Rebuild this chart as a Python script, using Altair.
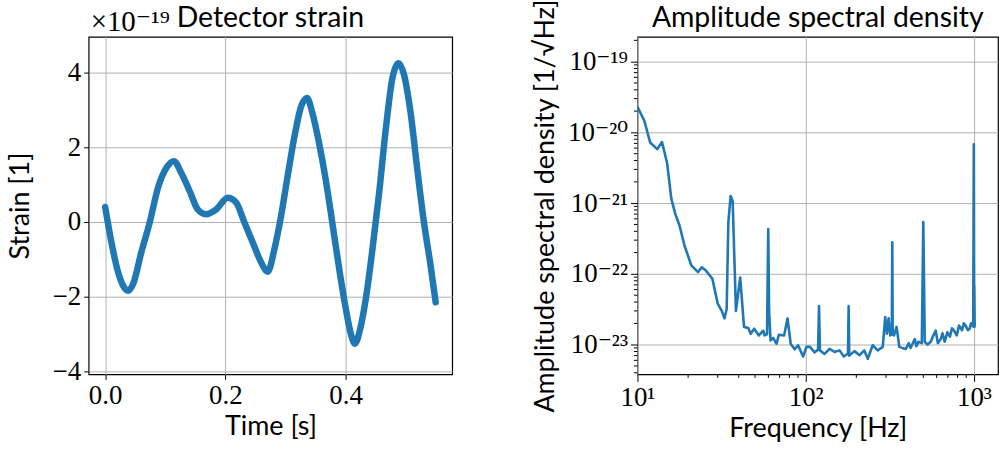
import altair as alt
import pandas as pd

# ---------------- data ----------------
# Left panel: detector strain, values in units of 1e-19
strain_time = [0.000, 0.0105, 0.0216, 0.030, 0.038, 0.0465, 0.060, 0.074, 0.088,
               0.102, 0.1145, 0.1267, 0.1405, 0.154, 0.168, 0.185, 0.204, 0.218,
               0.232, 0.2456, 0.2595, 0.268, 0.2705, 0.2816, 0.2927, 0.3037,
               0.315, 0.326, 0.336, 0.345, 0.356, 0.367, 0.378, 0.3895, 0.4005,
               0.4088, 0.4155, 0.4244, 0.4337, 0.4448, 0.4559, 0.4669, 0.478,
               0.488, 0.4974, 0.5084, 0.5195, 0.5306, 0.5416, 0.550]
strain_value = [0.40, -0.55, -1.35, -1.71, -1.84, -1.66, -0.82, -0.02, 0.92,
                1.45, 1.63, 1.31, 0.83, 0.34, 0.21, 0.34, 0.65, 0.52,
                -0.02, -0.55, -1.08, -1.31, -1.33, -0.73, 0.16, 1.23,
                2.29, 3.09, 3.32, 2.91, 2.11, 1.14, -0.02, -1.26, -2.33,
                -2.99, -3.26, -2.86, -2.06, -0.73, 0.78, 2.47, 3.85,
                4.25, 3.94, 2.91, 1.40, -0.02, -1.17, -2.15]

# Right panel: amplitude spectral density
asd_freq = [10.0, 11.0, 11.9, 13.1, 14.0, 15.0, 15.9, 16.8, 17.8, 19.05, 20.9,
            22.9, 24.1, 25.5, 27.9, 30.0, 31.7, 32.9, 33.9, 34.7, 35.8, 36.8,
            38.5, 40.8, 43.0, 45.6, 47.1, 49.4, 52.7, 55.9, 57.0, 58.9, 59.9,
            60.6, 61.8, 64.0, 67.1, 69.2, 74.4, 78.0, 81.5, 86.0, 90.1, 96.5,
            101, 106, 113, 118.5, 120, 121.5, 129.5, 138.6, 148.5, 159, 168.5,
            178.5, 180, 181.5, 195, 209, 223, 234, 250, 268, 287, 297, 304,
            311, 318, 325, 327, 329, 335, 347, 360, 375, 394, 410, 420, 431,
            445, 455, 468, 490, 500, 510, 530, 554, 570, 593, 610, 635, 650,
            670, 695, 720, 740, 762, 790, 815, 850, 870, 893, 920, 943, 960,
            990, 998, 1003, 1005, 1010, 1024]
asd_value = [2.3e-20, 1.45e-20, 7.2e-21, 5.8e-21, 7.3e-21, 3.7e-21, 1.15e-21,
             7.0e-22, 4.8e-22, 2.5e-22, 1.32e-22, 1.06e-22, 1.24e-22, 1.12e-22,
             8.5e-23, 3.8e-23, 3.0e-23, 2.35e-23, 3.2e-23, 5.4e-22, 1.26e-21,
             1.07e-21, 3.0e-23, 8.9e-23, 1.78e-23, 1.72e-23, 1.43e-23, 1.68e-23,
             1.35e-23, 1.58e-23, 1.35e-23, 1.4e-23, 4.3e-22, 3.0e-23, 1.15e-23,
             1.25e-23, 1.03e-23, 1.38e-23, 1.35e-23, 2.35e-23, 1.02e-23,
             8.6e-24, 9.8e-24, 6.8e-24, 9.3e-24, 9.3e-24, 7.8e-24, 8.5e-24,
             3.5e-23, 8.3e-24, 7.4e-24, 8.7e-24, 7.9e-24, 8.3e-24, 6.8e-24,
             7.5e-24, 3.5e-23, 7.0e-24, 8.1e-24, 7.1e-24, 8.3e-24, 6.3e-24,
             9.8e-24, 8.3e-24, 9.3e-24, 2.45e-23, 1.43e-23, 2.35e-23, 1.35e-23,
             1.4e-23, 2.8e-22, 1.4e-23, 1.35e-23, 1.78e-23, 9.3e-24, 9.0e-24,
             8.7e-24, 1.05e-23, 9.0e-24, 1.02e-23, 1.2e-23, 9.5e-24, 1.1e-23,
             1.05e-23, 5.4e-22, 1.1e-23, 1.0e-23, 1.1e-23, 1.3e-23, 1.58e-23,
             1.05e-23, 1.2e-23, 1.45e-23, 1.1e-23, 1.5e-23, 1.3e-23, 1.7e-23,
             1.58e-23, 1.35e-23, 1.86e-23, 1.6e-23, 2.0e-23, 1.86e-23, 1.6e-23,
             1.68e-23, 2.0e-23, 1.8e-23, 6.8e-21, 1.9e-23, 6.9e-23, 1.8e-23,
             1.78e-23]

# ticks and texts
time_ticks = [0.0, 0.2, 0.4]
strain_ticks = [-4, -2, 0, 2, 4]
freq_major = [10, 100, 1000]
asd_major = [1e-23, 1e-22, 1e-21, 1e-20, 1e-19]
freq_minor = [m * d for d in (10, 100) for m in range(2, 10)]
asd_minor = [m * d for d in (1e-24, 1e-23, 1e-22, 1e-21, 1e-20, 1e-19)
             for m in range(2, 10)]
asd_minor = [v for v in asd_minor if 3.8e-24 <= v <= 2.2e-19]

title_left = "Detector strain"
title_right = "Amplitude spectral density"
offset_text = "×10⁻¹⁹"

SERIF = "Liberation Serif, DejaVu Serif, serif"
SANS = "Lato, Open Sans, sans-serif"
BLUE = "#1f77b4"
TICK_FS = 27
LAB_FS = 27
TITLE_FS = 28.5

strain_df = pd.DataFrame({"t": strain_time, "h": strain_value})
asd_df = pd.DataFrame({"f": asd_freq, "a": asd_value})

# ---------------- left panel ----------------
W1, H = 365, 339
x1 = alt.X("t:Q", scale=alt.Scale(domain=[-0.0275, 0.5775], nice=False, zero=False),
           axis=alt.Axis(values=time_ticks, format=".1f", title="Time [s]"))
y1 = alt.Y("h:Q", scale=alt.Scale(domain=[-4.08, 4.96], nice=False, zero=False),
           axis=alt.Axis(values=strain_ticks, format="d", title="Strain [1]",
                         minExtent=45, maxExtent=45, titlePadding=9))

strain_line = alt.Chart(strain_df).mark_line(
    color=BLUE, strokeWidth=6.5, interpolate="monotone", clip=True,
    strokeCap="round", strokeJoin="round").encode(x=x1, y=y1)

left_title = alt.Chart(pd.DataFrame({"s": [title_left]})).mark_text(
    font=SANS, fontSize=TITLE_FS, align="center", baseline="alphabetic", color="black"
).encode(x=alt.value(W1 / 2), y=alt.value(-10), text="s:N")

left_offset = alt.Chart(pd.DataFrame({"s": [offset_text]})).mark_text(
    font=SERIF, fontSize=29, align="left", baseline="alphabetic", color="black"
).encode(x=alt.value(2), y=alt.value(-6), text="s:N")

left = alt.layer(strain_line, left_title, left_offset).properties(width=W1, height=H)

# ---------------- right panel ----------------
W2 = 362
sup = {"-": "⁻", "0": "⁰", "1": "¹", "2": "²", "3": "³", "4": "⁴",
       "5": "⁵", "6": "⁶", "7": "⁷", "8": "⁸", "9": "⁹"}


def sup_label(e):
    return "10" + "".join(sup[c] for c in str(e))


def label_expr(exps):
    expr = "''"
    for e in exps:
        expr = f"round(log(datum.value)/LN10) == {e} ? '{sup_label(e)}' : " + expr
    return expr


x2 = alt.X("f:Q", scale=alt.Scale(type="log", domain=[10, 1390], nice=False),
           axis=alt.Axis(values=freq_major, title="Frequency [Hz]",
                         labelExpr=label_expr([1, 2, 3]), tickSize=7))
y2 = alt.Y("a:Q", scale=alt.Scale(type="log", domain=[3.8e-24, 2.25e-19], nice=False),
           axis=alt.Axis(values=asd_major,
                         title="Amplitude spectral density [1/√Hz]",
                         labelExpr=label_expr([-23, -22, -21, -20, -19]),
                         tickSize=7, minExtent=74, maxExtent=74, titlePadding=4))

asd_line = alt.Chart(asd_df).mark_line(
    color=BLUE, strokeWidth=2.6, clip=True, strokeJoin="round").encode(x=x2, y=y2)

# minor ticks of the log axes, drawn through the same scales
fminor = alt.Chart(pd.DataFrame({"f": freq_minor})).mark_rule(
    color="black", strokeWidth=1).encode(x="f:Q", y=alt.value(H), y2=alt.value(H + 3.5))
aminor = alt.Chart(pd.DataFrame({"a": asd_minor})).mark_rule(
    color="black", strokeWidth=1).encode(y="a:Q", x=alt.value(0), x2=alt.value(-3.5))

right_title = alt.Chart(pd.DataFrame({"s": [title_right]})).mark_text(
    font=SANS, fontSize=TITLE_FS, align="center", baseline="alphabetic", color="black"
).encode(x=alt.value(W2 / 2), y=alt.value(-10), text="s:N")

right = alt.layer(asd_line, fminor, aminor, right_title).properties(width=W2, height=H)

chart = alt.hconcat(left, right, spacing=78).properties(
    padding={"left": 6, "top": -3, "right": 0, "bottom": 0}
).configure_view(
    stroke="black", strokeWidth=1.2
).configure_axis(
    domain=False,
    grid=True, gridColor="#b0b0b0", gridWidth=1,
    ticks=True, tickColor="black", tickWidth=1, tickSize=5,
    labelFont=SERIF, labelFontSize=TICK_FS, labelColor="black", labelPadding=3,
    titleFont=SANS, titleFontSize=LAB_FS, titleFontWeight="normal", titleColor="black",
    labelFlush=False, labelOverlap=False,
).configure_axisX(titlePadding=5)

chart.save("out.html", embed_options={"renderer": "svg", "actions": False})
